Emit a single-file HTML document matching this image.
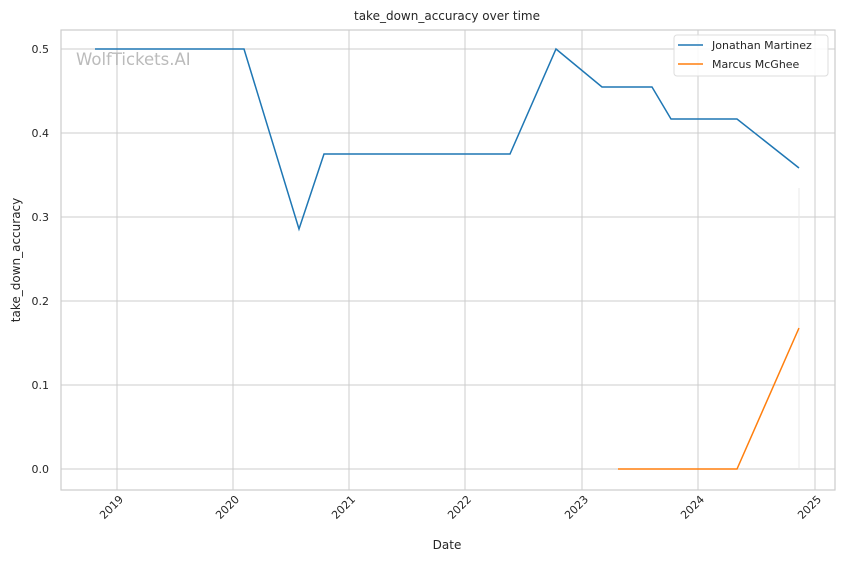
<!DOCTYPE html>
<html><head><meta charset="utf-8"><style>body{margin:0;background:#fff}svg{display:block}text{font-family:"DejaVu Sans","Liberation Sans",sans-serif;fill:#262626}</style></head><body>
<svg width="844" height="561" viewBox="0 0 844 561">
<rect width="844" height="561" fill="#fff"/>
<g stroke="#cccccc" stroke-width="1">
<line x1="61" x2="835" y1="49" y2="49"/><line x1="61" x2="835" y1="133" y2="133"/><line x1="61" x2="835" y1="217" y2="217"/><line x1="61" x2="835" y1="301" y2="301"/><line x1="61" x2="835" y1="385" y2="385"/><line x1="61" x2="835" y1="469" y2="469"/>
<line x1="117" x2="117" y1="30" y2="490"/><line x1="233" x2="233" y1="30" y2="490"/><line x1="349" x2="349" y1="30" y2="490"/><line x1="465" x2="465" y1="30" y2="490"/><line x1="582" x2="582" y1="30" y2="490"/><line x1="698" x2="698" y1="30" y2="490"/><line x1="815" x2="815" y1="30" y2="490"/>
</g>
<rect x="61" y="30" width="774" height="460" fill="none" stroke="#cccccc" stroke-width="1.2"/>
<line x1="799" x2="799" y1="188" y2="469" stroke="#e8e8e8" stroke-width="1"/>
<text x="76" y="65" font-size="16.5" style="fill:#bbbbbb">WolfTickets.AI</text>
<polyline fill="none" stroke="#1f77b4" stroke-width="1.5" points="95,49 244,49 299,229 324,154 510,154 556,49 602,87 652,87 671,119 737,119 799,168"/>
<polyline fill="none" stroke="#ff7f0e" stroke-width="1.5" points="618,469 737,469 799,328"/>
<g font-size="11" text-anchor="end">
<text x="49" y="53">0.5</text><text x="49" y="137">0.4</text><text x="49" y="221">0.3</text><text x="49" y="305">0.2</text><text x="49" y="389">0.1</text><text x="49" y="473">0.0</text>
</g>
<g font-size="11" text-anchor="end">
<text transform="translate(124,500) rotate(-45)">2019</text>
<text transform="translate(240,500) rotate(-45)">2020</text>
<text transform="translate(356,500) rotate(-45)">2021</text>
<text transform="translate(472,500) rotate(-45)">2022</text>
<text transform="translate(589,500) rotate(-45)">2023</text>
<text transform="translate(705,500) rotate(-45)">2024</text>
<text transform="translate(822,500) rotate(-45)">2025</text>
</g>
<text x="447" y="549" font-size="12" text-anchor="middle">Date</text>
<text transform="translate(20,260) rotate(-90)" font-size="12" text-anchor="middle">take_down_accuracy</text>
<text x="447" y="20" font-size="12" text-anchor="middle">take_down_accuracy over time</text>
<rect x="674" y="35" width="154" height="41" rx="3" fill="#fff" fill-opacity="0.85" stroke="#dddddd"/>
<line x1="678" x2="703" y1="45" y2="45" stroke="#1f77b4" stroke-width="1.5"/>
<text x="712" y="49" font-size="11">Jonathan Martinez</text>
<line x1="678" x2="703" y1="64" y2="64" stroke="#ff7f0e" stroke-width="1.5"/>
<text x="712" y="68" font-size="11">Marcus McGhee</text>
</svg>
</body></html>
